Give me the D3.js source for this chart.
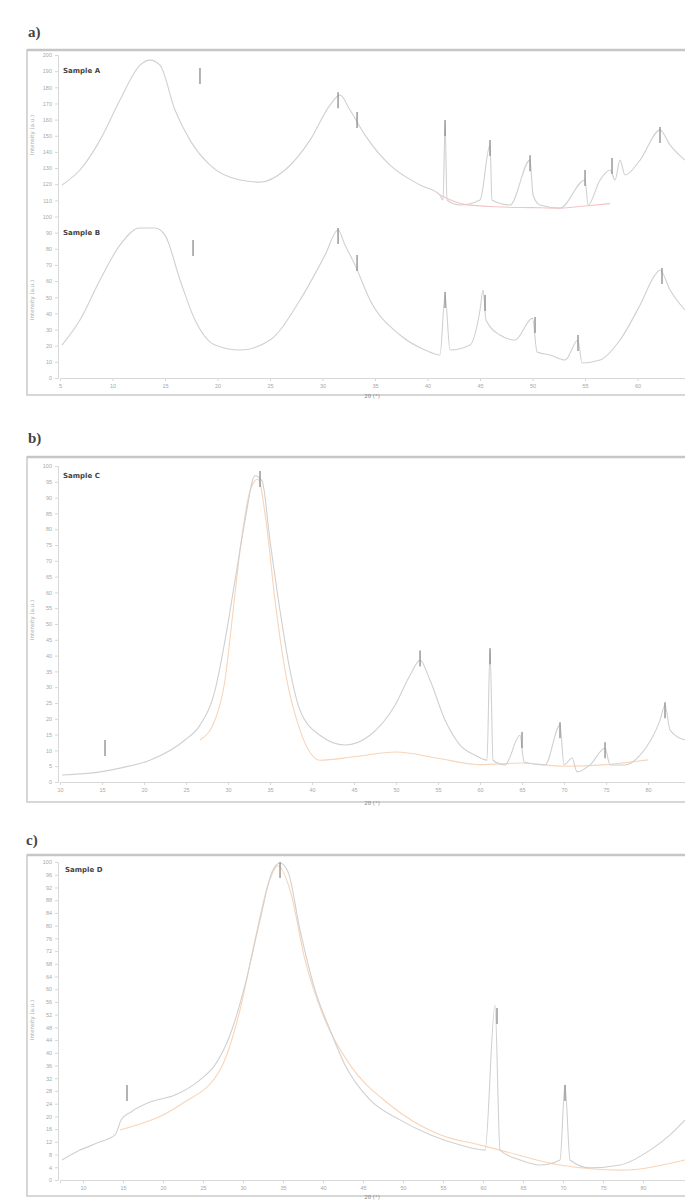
<!DOCTYPE html>
<html>
<head>
<meta charset="utf-8">
<script src="https://cdn.jsdelivr.net/npm/d3@7"></script>
<style>
  body { margin: 0; background: #fff; }
  svg { display: block; font-family: "DejaVu Sans", sans-serif; }
</style>
</head>
<body>
<svg id="fig" width="685" height="1202"></svg>
<script>
// ---------- data: panel a (two stacked patterns) ----------
const tracesALabels = ["Sample A", "Sample B"];
const traceA1 = [[5.19,19.5],[6.90,28.8],[8.81,47.3],[10.71,72.1],[12.62,93.7],[13.57,96.8],[14.52,93.7],
  [15.95,65.9],[17.38,47.3],[19.29,31.8],[22.14,22.6],[24.05,21.3],[26.43,28.8],[28.81,47.3],[30.71,69.0],
  [31.67,75.2],[32.62,65.9],[34.05,50.4],[36.43,31.8],[39.29,19.5],[41.19,13.3],[41.48,10.2],[41.67,56.6],
  [41.86,10.2],[43.10,7.1],[45.0,10.2],[45.95,44.2],[46.14,10.2],[47.86,7.1],[49.76,34.9],[50.05,13.3],
  [50.71,7.1],[52.62,5.2],[55.0,22.6],[55.29,7.1],[56.43,22.6],[57.38,28.8],[57.86,22.6],[58.33,34.9],
  [58.81,25.7],[60.24,34.9],[62.14,53.5],[63.10,44.2],[64.52,34.9]];
const traceA1Base = [[41.19,13.3],[43.5,7.5],[46.5,6.0],[50.0,5.5],[52.6,5.2],[55.0,6.5],[57.4,8.0]];
const traceA2 = [[5.19,20.4],[6.90,35.9],[8.81,60.7],[10.71,82.3],[12.62,92.9],[14.05,92.9],[15.0,88.5],
  [16.43,60.7],[17.86,35.9],[19.76,20.4],[22.14,17.3],[25.0,23.5],[27.86,48.3],[30.24,76.1],[31.48,91.6],
  [32.14,82.3],[33.10,69.9],[34.52,48.3],[37.38,26.6],[39.76,17.3],[41.19,14.2],[41.67,51.4],[42.14,17.3],
  [44.05,20.4],[45.0,42.1],[45.29,54.5],[45.57,35.9],[46.90,26.6],[48.33,23.5],[50.0,37.1],[50.43,16.1],
  [51.67,14.2],[53.10,11.1],[54.33,23.5],[54.71,9.3],[56.43,11.1],[58.33,23.5],[60.24,45.2],[61.67,63.8],
  [62.14,66.9],[63.10,54.5],[64.52,42.1]];
const peaksA1 = [[18.33,91.9],[31.48,77.0],[33.29,64.7],[41.67,59.7],[45.95,47.3],[49.76,38.0],[55.0,28.8],[57.57,36.2],[62.14,55.4]];
const peaksA2 = [[17.67,85.4],[31.48,92.9],[33.29,76.1],[41.67,53.2],[45.48,51.4],[50.24,37.8],[54.33,26.6],[62.33,68.1]];
const xTicksA = [5,10,15,20,25,30,35,40,45,50,55,60];

// ---------- data: panel b ----------
const traceBLabel = "Sample C";
const traceB = [[10.24,2.2],[14.76,3.2],[17.14,4.4],[20.71,6.9],[24.88,13.3],[26.67,18.0],[28.45,29.0],
  [29.64,44.8],[30.83,63.7],[32.02,82.7],[33.21,96.9],[34.05,95.3],[35.0,76.4],[36.19,54.3],[37.38,35.3],
  [38.57,22.7],[40.95,14.8],[43.93,11.7],[46.90,14.8],[49.88,24.3],[51.67,33.8],[52.86,38.5],[54.05,32.2],
  [55.83,19.6],[57.62,11.7],[59.40,8.5],[60.83,6.9],[61.19,41.6],[61.55,6.9],[62.98,5.4],[64.76,14.8],
  [65.24,6.3],[67.74,5.4],[69.52,18.0],[70.0,5.4],[70.95,7.6],[71.55,3.2],[73.10,5.4],[74.88,10.7],
  [75.48,5.4],[77.26,5.4],[79.05,8.5],[81.43,19.6],[82.02,24.3],[82.62,16.4],[84.40,13.3]];
const fitB = [[26.67,13.3],[28.45,19.6],[29.64,32.2],[30.48,51.1],[31.43,73.2],[32.62,92.1],[33.57,95.9],
  [34.52,82.7],[35.60,57.4],[36.79,35.3],[38.57,16.4],[40.95,6.9],[45.0,8.0],[50.0,9.5],[55.0,7.5],
  [60.0,5.5],[65.0,6.0],[70.0,5.0],[75.0,5.5],[80.0,7.0]];
const peaksB = [[15.36,13.3],[33.81,98.4],[52.86,41.6],[61.19,42.3],[65.0,15.8],[69.52,18.9],[74.88,12.6],[82.02,25.2]];
const xTicksB = [10,15,20,25,30,35,40,45,50,55,60,65,70,75,80];

// ---------- data: panel c ----------
const traceCLabel = "Sample D";
const traceC = [[7.38,6.3],[9.63,9.4],[12.13,12.0],[14.0,14.2],[14.8,19.0],[16.0,21.4],[18.38,24.5],
  [21.5,26.7],[24.63,31.5],[26.5,36.2],[28.38,45.6],[30.25,61.3],[32.13,81.8],[33.63,96.9],[34.63,99.7],
  [35.63,96.9],[37.13,78.6],[39.0,59.8],[40.88,47.2],[42.75,36.2],[45.88,25.2],[49.63,18.9],[53.38,14.2],
  [57.13,11.0],[60.25,9.4],[61.5,55.0],[62.13,9.4],[64.63,6.3],[67.13,4.7],[69.63,6.3],[70.25,29.9],
  [70.88,6.3],[73.38,3.8],[77.13,4.7],[80.88,9.4],[83.38,14.2],[85.25,18.9]];
const fitC = [[14.63,15.7],[22.13,23.6],[27.13,34.6],[29.63,53.5],[31.5,75.5],[33.13,92.8],[34.38,98.8],
  [35.88,91.2],[37.75,69.2],[40.25,50.3],[43.38,36.2],[48.38,23.6],[54.63,14.2],[59.63,11.0],[62.13,9.4],
  [69.63,4.7],[77.13,3.1],[85.25,6.3]];
const peaksC = [[15.5,29.9],[34.63,100],[61.75,54.1],[70.25,29.9]];
const xTicksC = [10,15,20,25,30,35,40,45,50,55,60,65,70,75,80];

const panelLetters = ["a)", "b)", "c)"];
const xTitle = "2θ (°)";
const yTitle = "Intensity (a.u.)";

// ---------- drawing ----------
const svg = d3.select("#fig");
const W = 685;
const GREY = "#d0d0d0", FRAME = "#cdcdcd", TICKTXT = "#a8a8a8";

function panel(cfg) {
  const g = svg.append("g");
  // outer frame
  g.append("rect").attr("x", 27).attr("y", cfg.frameTop)
    .attr("width", W).attr("height", cfg.frameBottom - cfg.frameTop)
    .attr("fill", "none").attr("stroke", FRAME).attr("stroke-width", 1.6);
  g.append("line").attr("x1", 27).attr("x2", W).attr("y1", cfg.frameTop).attr("y2", cfg.frameTop)
    .attr("stroke", "#c6c6c6").attr("stroke-width", 2.4);
  g.append("text").attr("x", cfg.letterX).attr("y", cfg.letterY).text(cfg.letter)
    .attr("font-family", "Liberation Serif, serif").attr("font-weight", "bold")
    .attr("font-size", 15).attr("fill", "#444");

  const x = d3.scaleLinear().domain(cfg.xDomain).range([60, W]);
  const y = d3.scaleLinear().domain(cfg.yDomain).range([cfg.bottom, cfg.top]);

  // axes
  const xa = g.append("g").attr("transform", `translate(0,${cfg.bottom})`)
    .call(d3.axisBottom(x).tickValues(cfg.xTicks).tickSize(3).tickFormat(d3.format("d")));
  const ya = g.append("g").attr("transform", `translate(58,0)`)
    .call(d3.axisLeft(y).tickValues(d3.range(cfg.yDomain[0], cfg.yDomain[1] + 0.001, cfg.yStep))
      .tickSize(3).tickFormat(d3.format("d")));
  [xa, ya].forEach(a => {
    a.selectAll("path,line").attr("stroke", "#d8d8d8");
    a.selectAll("text").attr("fill", TICKTXT).attr("font-size", 5.5);
  });

  g.append("text").attr("x", 372).attr("y", cfg.frameBottom + 2.5).attr("text-anchor", "middle")
    .attr("font-size", 5.5).attr("fill", "#8a8a8a").text(xTitle);
  cfg.yTitleY.forEach(yy => {
    g.append("text").attr("transform", `translate(34,${yy}) rotate(-90)`)
      .attr("text-anchor", "middle").attr("font-size", 5.5).attr("fill", "#aaa").text(yTitle);
  });

  const line = d3.line().x(d => x(d[0])).curve(d3.curveMonotoneX);
  cfg.series.forEach(s => {
    const off = s.offset || 0;
    g.append("path").datum(s.data)
      .attr("d", line.y(d => y(d[1] + off)))
      .attr("fill", "none").attr("stroke", s.color).attr("stroke-width", s.width || 1.1);
  });
  cfg.peaks.forEach(p => {
    const off = p.offset || 0;
    g.selectAll(null).data(p.data).join("line")
      .attr("x1", d => x(d[0])).attr("x2", d => x(d[0]))
      .attr("y1", d => y(d[1] + off)).attr("y2", d => y(d[1] + off) + 16)
      .attr("stroke", "#8a8a8a").attr("stroke-width", 1.3);
  });
  cfg.labels.forEach(l => {
    g.append("text").attr("x", l.x).attr("y", l.y).text(l.text)
      .attr("font-size", 7).attr("font-weight", "bold").attr("fill", "#444");
  });
}

panel({
  letter: panelLetters[0], letterX: 28, letterY: 37,
  frameTop: 50, frameBottom: 395, top: 55, bottom: 378,
  xDomain: [5, 64.52], yDomain: [0, 200], yStep: 10, xTicks: xTicksA,
  yTitleY: [135, 300],
  series: [
    { data: traceA1, color: GREY, offset: 100 },
    { data: traceA1Base, color: "#f4c4c4", offset: 100 },
    { data: traceA2, color: GREY }
  ],
  peaks: [{ data: peaksA1, offset: 100 }, { data: peaksA2 }],
  labels: [{ x: 63, y: 73, text: tracesALabels[0] }, { x: 63, y: 235, text: tracesALabels[1] }]
});

panel({
  letter: panelLetters[1], letterX: 28, letterY: 443,
  frameTop: 457, frameBottom: 802, top: 466, bottom: 782,
  xDomain: [10, 84.4], yDomain: [0, 100], yStep: 5, xTicks: xTicksB,
  yTitleY: [620],
  series: [
    { data: fitB, color: "#f8d4b8" },
    { data: traceB, color: GREY }
  ],
  peaks: [{ data: peaksB }],
  labels: [{ x: 63, y: 478, text: traceBLabel }]
});

panel({
  letter: panelLetters[2], letterX: 26, letterY: 845,
  frameTop: 855, frameBottom: 1196, top: 862, bottom: 1180,
  xDomain: [7.125, 85.25], yDomain: [0, 100], yStep: 4, xTicks: xTicksC,
  yTitleY: [1020],
  series: [
    { data: fitC, color: "#f8d4b8" },
    { data: traceC, color: GREY }
  ],
  peaks: [{ data: peaksC }],
  labels: [{ x: 65, y: 872, text: traceCLabel }]
});
</script>
</body>
</html>
